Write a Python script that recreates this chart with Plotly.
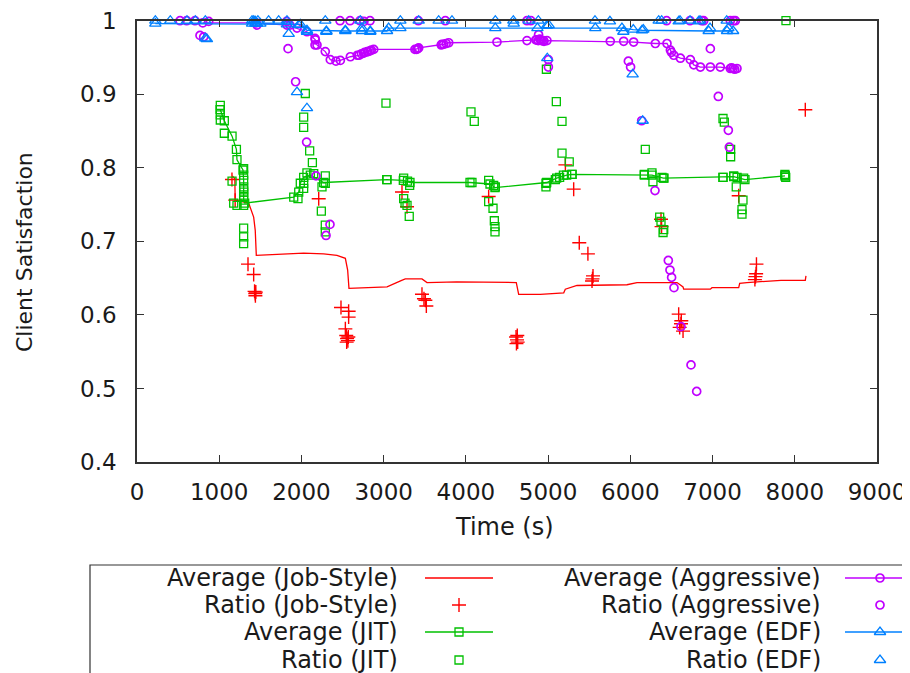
import plotly.graph_objects as go

# ---------------- data ----------------
job_avg_x = [1160, 1190, 1194, 1358, 1419, 1438, 1451, 1703, 2027, 2270, 2432, 2534, 2562, 2578, 2757,
             3041, 3219, 3263, 3466, 3527, 3888, 4439, 4613, 4642, 4905, 5190, 5209, 5351, 5959, 6081,
             6568, 6641, 6649, 6973, 6993, 7318, 7330, 7418, 7824, 7832, 8128, 8136]
job_avg_y = [0.789, 0.785, 0.756, 0.752, 0.733, 0.715, 0.681, 0.682, 0.684, 0.683, 0.681, 0.677, 0.661,
             0.636, 0.637, 0.638, 0.647, 0.649, 0.649, 0.644, 0.645, 0.644, 0.644, 0.628, 0.628, 0.630,
             0.635, 0.640, 0.641, 0.644, 0.644, 0.638, 0.635, 0.635, 0.637, 0.637, 0.643, 0.644, 0.646,
             0.647, 0.647, 0.653]

job_ratio_x = [1155, 1194, 1350, 1419, 1430, 1438, 1445, 1440, 2210, 2481, 2574, 2574, 2534, 2545, 2555,
               2565, 2550, 2570, 3223, 3284, 3466, 3507, 3519, 3490, 4277, 4610, 4622, 4630, 4615, 4625,
               5210, 5311, 5379, 5484, 5546, 5534, 5540, 6373, 6380, 7318, 7534, 7522, 7530, 7515, 6588,
               6616, 6641, 6600, 6620, 8128]
job_ratio_y = [0.784, 0.756, 0.669, 0.655, 0.632, 0.629, 0.631, 0.626, 0.758, 0.610, 0.605, 0.597, 0.581,
               0.572, 0.568, 0.565, 0.563, 0.570, 0.767, 0.747, 0.628, 0.620, 0.612, 0.622, 0.761, 0.570,
               0.566, 0.563, 0.561, 0.572, 0.804, 0.771, 0.698, 0.683, 0.653, 0.646, 0.649, 0.730, 0.720,
               0.762, 0.669, 0.652, 0.656, 0.648, 0.601, 0.588, 0.578, 0.583, 0.592, 0.879]

jit_avg_x = [1013, 1062, 1156, 1209, 1216, 1289, 1297, 1297, 1297, 1310, 1906, 1967, 1986, 2027, 2108,
             2270, 3041, 3239, 3320, 4050, 4293, 4354, 4983, 5104, 5226, 5291, 6170, 6263, 6402, 7127,
             7257, 7394, 7881]
jit_avg_y = [0.879, 0.864, 0.843, 0.825, 0.811, 0.797, 0.783, 0.770, 0.756, 0.752, 0.760, 0.767, 0.779,
             0.787, 0.790, 0.780, 0.784, 0.783, 0.780, 0.780, 0.778, 0.773, 0.780, 0.786, 0.790, 0.791,
             0.791, 0.790, 0.786, 0.787, 0.788, 0.784, 0.789]

jit_ratio_x = [1013, 1013, 1013, 1013, 1062, 1156, 1176, 1216, 1297, 1297, 1297, 1297, 1297, 1297, 1297,
               1297, 1297, 2047, 2027, 2027, 2100, 2133, 2027, 2027, 1958, 2067, 2149, 2250, 2290, 2290,
               2242, 2290, 2290, 3028, 3037, 3243, 3290, 3316, 3243, 3284, 3311, 3260, 4062, 4102, 4074,
               4277, 4338, 4358, 4277, 4330, 4346, 4354, 4354, 4979, 5100, 5169, 5169, 5257, 4974, 4974,
               5088, 5140, 5186, 5291, 6182, 6170, 6263, 6275, 6385, 6410, 6357, 6373, 6406, 6398, 7127,
               7143, 7220, 7220, 7127, 7257, 7298, 7378, 7288, 7370, 7358, 7358, 7885, 7880, 7890, 7893]
jit_ratio_y = [0.885, 0.879, 0.872, 0.865, 0.847, 0.782, 0.752, 0.749, 0.799, 0.790, 0.774, 0.767, 0.761,
               0.749, 0.718, 0.706, 0.697, 0.901, 0.869, 0.855, 0.823, 0.807, 0.779, 0.772, 0.758, 0.793,
               0.792, 0.774, 0.789, 0.779, 0.741, 0.722, 0.713, 0.888, 0.784, 0.786, 0.782, 0.776, 0.758,
               0.749, 0.734, 0.752, 0.876, 0.863, 0.780, 0.783, 0.776, 0.774, 0.754, 0.745, 0.728, 0.720,
               0.713, 0.934, 0.890, 0.863, 0.820, 0.808, 0.779, 0.774, 0.784, 0.787, 0.790, 0.791, 0.825,
               0.790, 0.793, 0.781, 0.787, 0.786, 0.733, 0.727, 0.716, 0.712, 0.867, 0.862, 0.825, 0.815,
               0.787, 0.789, 0.787, 0.786, 0.774, 0.756, 0.743, 0.737, 0.789, 0.791, 0.787, 1.0]

agg_avg_x = [800, 1450, 1824, 1946, 2067, 2169, 2189, 2290, 2351, 2420, 2473, 2595, 2680, 2700, 2730,
             2757, 2770, 2800, 2810, 2834, 2850, 2879, 3380, 3402, 3415, 3426, 3700, 3709, 3730, 3760,
             3791, 4378, 4743, 4850, 4860, 4880, 4900, 4905, 4920, 4940, 4950, 4986, 5756, 5919, 6040,
             6304, 6446, 6487, 6500, 6528, 6609, 6730, 6771, 6852, 6973, 7094, 7216, 7230, 7250, 7270,
             7297]
agg_avg_y = [0.997, 0.997, 0.994, 0.990, 0.985, 0.974, 0.967, 0.958, 0.947, 0.945, 0.946, 0.951, 0.953,
             0.953, 0.955, 0.956, 0.957, 0.958, 0.958, 0.959, 0.960, 0.961, 0.961, 0.961, 0.962, 0.963,
             0.967, 0.968, 0.968, 0.969, 0.970, 0.971, 0.973, 0.974, 0.974, 0.973, 0.975, 0.974, 0.973,
             0.973, 0.972, 0.973, 0.972, 0.972, 0.971, 0.969, 0.969, 0.960, 0.957, 0.953, 0.949, 0.947,
             0.940, 0.937, 0.937, 0.937, 0.935, 0.936, 0.935, 0.934, 0.935]

agg_ratio_x = [523, 604, 705, 872, 766, 811, 1459, 1820, 1860, 1837, 1929, 2063, 2177, 2347, 2299, 2165,
               2165, 2469, 2591, 2712, 2834, 2760, 3422, 3750, 4743, 4790, 4884, 5003, 5003, 5976, 6003,
               6138, 6441, 6726, 6868, 6892, 7216, 7253, 7277, 6973, 7070, 7192, 7204, 6300, 6462, 6482,
               6502, 6531, 6616, 6738, 6807]
agg_ratio_y = [1.0, 1.0, 1.0, 0.999, 0.980, 0.978, 0.994, 0.999, 0.994, 0.962, 0.917, 0.835, 0.789, 0.723,
               0.708, 0.976, 0.967, 1.0, 1.0, 1.0, 1.0, 0.999, 1.0, 1.0, 1.0, 1.0, 0.981, 0.947, 0.937,
               0.945, 0.937, 0.864, 1.0, 1.0, 1.0, 1.0, 1.0, 1.0, 1.0, 0.962, 0.897, 0.851, 0.828, 0.769,
               0.674, 0.661, 0.651, 0.637, 0.584, 0.532, 0.496]

edf_avg_x = [223, 1400, 1439, 1460, 1500, 1824, 1986, 2067, 2303, 2534, 2736, 2837, 3041, 3060, 3203,
             4358, 4870, 5574, 5898, 6036, 6142, 6953, 7176, 7250]
edf_avg_y = [0.996, 0.996, 0.996, 0.996, 0.996, 0.995, 0.995, 0.987, 0.986, 0.986, 0.986, 0.986, 0.986,
             0.990, 0.990, 0.990, 0.990, 0.990, 0.990, 0.988, 0.987, 0.986, 0.986, 0.986]

edf_ratio_x = [223, 405, 608, 710, 831, 831, 850, 1399, 1420, 1439, 1470, 1601, 1723, 1824, 1845, 1967,
               2067, 2290, 2303, 2534, 2716, 2736, 2837, 1946, 2067, 3203, 3426, 3669, 3831, 4358, 4582,
               4577, 4764, 4881, 4983, 5007, 4990, 5570, 5752, 5915, 6028, 6150, 6158, 6345, 6381, 6588,
               6604, 6726, 6831, 6847, 6969, 7172, 7192]
edf_ratio_y = [1.0, 1.0, 1.0, 1.0, 1.0, 0.976, 0.975, 1.0, 1.0, 0.999, 1.0, 1.0, 1.0, 1.0, 0.982, 0.994,
               0.985, 1.0, 0.985, 0.987, 1.0, 0.990, 0.985, 0.903, 0.881, 1.0, 1.0, 1.0, 1.0, 1.0, 0.996,
               1.0, 1.0, 1.0, 0.993, 0.994, 0.949, 1.0, 0.999, 0.985, 0.927, 0.864, 0.988, 1.0, 1.0, 0.999,
               1.0, 1.0, 0.999, 1.0, 0.990, 1.0, 0.990]

x_ticks = [0, 1000, 2000, 3000, 4000, 5000, 6000, 7000, 8000, 9000]
x_tick_labels = ["0", "1000", "2000", "3000", "4000", "5000", "6000", "7000", "8000", "9000"]
y_ticks = [0.4, 0.5, 0.6, 0.7, 0.8, 0.9, 1.0]
y_tick_labels = ["0.4", "0.5", "0.6", "0.7", "0.8", "0.9", "1"]

legend_left = ["Average (Job-Style)", "Ratio (Job-Style)", "Average (JIT)", "Ratio (JIT)"]
legend_right = ["Average (Aggressive)", "Ratio (Aggressive)", "Average (EDF)", "Ratio (EDF)"]

# ---------------- styles ----------------
RED, GREEN, BLUE, PURPLE = "#ff0000", "#00c000", "#0080ff", "#c000ff"
FONT = "DejaVu Sans"
TXT = "#1a1a1a"
FS = 24
OFF = 8                      # page body margin in the browser
W, H = 910 - OFF, 673 - OFF  # figure size that exactly fills the visible window


def px(v):
    return (v - OFF) / W


def py(v):
    return 1 - (v - OFF) / H


L, R, T, B = 137, 877, 20.7, 462  # screen pixel position of the plot frame

sq = dict(symbol="square-open", size=8, line=dict(width=1.3, color=GREEN), color=GREEN)
pl = dict(symbol="cross-thin-open", size=10, line=dict(width=1.4, color=RED), color=RED)
ci = dict(symbol="circle-open", size=8, line=dict(width=1.7, color=PURPLE), color=PURPLE)
tr = dict(symbol="triangle-up-open", size=10, line=dict(width=1.3, color=BLUE), color=BLUE)

fig = go.Figure()
fig.add_trace(go.Scatter(x=job_avg_x, y=job_avg_y, mode="lines", line=dict(color=RED, width=1.3),
                         cliponaxis=False, showlegend=False))
fig.add_trace(go.Scatter(x=job_ratio_x, y=job_ratio_y, mode="markers", marker=pl, cliponaxis=False,
                         showlegend=False))
fig.add_trace(go.Scatter(x=jit_avg_x, y=jit_avg_y, mode="lines+markers", line=dict(color=GREEN, width=1.3),
                         marker=sq, cliponaxis=False, showlegend=False))
fig.add_trace(go.Scatter(x=jit_ratio_x, y=jit_ratio_y, mode="markers", marker=sq, cliponaxis=False,
                         showlegend=False))
fig.add_trace(go.Scatter(x=agg_avg_x, y=agg_avg_y, mode="lines+markers", line=dict(color=PURPLE, width=1.3),
                         marker=ci, cliponaxis=False, showlegend=False))
fig.add_trace(go.Scatter(x=agg_ratio_x, y=agg_ratio_y, mode="markers", marker=ci, cliponaxis=False,
                         showlegend=False))
fig.add_trace(go.Scatter(x=edf_avg_x, y=edf_avg_y, mode="lines+markers", line=dict(color=BLUE, width=1.3),
                         marker=tr, cliponaxis=False, showlegend=False))
fig.add_trace(go.Scatter(x=edf_ratio_x, y=edf_ratio_y, mode="markers", marker=tr, cliponaxis=False,
                         showlegend=False))

# ---------------- hand-made key (gnuplot style: text first, sample after) ----------------
rows_py = [578, 605, 632, 660]
left_col = dict(text_x=400, s0=425, s1=493, mx=459)
right_col = dict(text_x=823, s0=845, s1=915, mx=880)
left_styles = [("line", RED, None), ("mark", RED, pl), ("both", GREEN, sq), ("mark", GREEN, sq)]
right_styles = [("both", PURPLE, ci), ("mark", PURPLE, ci), ("both", BLUE, tr), ("mark", BLUE, tr)]

annotations = []
shapes = []
for col, labels, styles in ((left_col, legend_left, left_styles), (right_col, legend_right, right_styles)):
    for ry, lab, (kind, col_c, mk) in zip(rows_py, labels, styles):
        annotations.append(dict(text=lab, x=px(col["text_x"]), y=py(ry), xref="paper", yref="paper",
                                xanchor="right", yanchor="middle", showarrow=False,
                                font=dict(family=FONT, size=FS, color=TXT)))
        if kind in ("line", "both"):
            fig.add_trace(go.Scatter(x=[col["s0"] - OFF, col["s1"] - OFF], y=[H - (ry - OFF)] * 2,
                                     mode="lines", line=dict(color=col_c, width=1.3), xaxis="x2", yaxis="y2",
                                     cliponaxis=False, showlegend=False, hoverinfo="skip"))
        if kind in ("mark", "both"):
            fig.add_trace(go.Scatter(x=[col["mx"] - OFF], y=[H - (ry - OFF)], mode="markers", marker=mk,
                                     xaxis="x2", yaxis="y2", cliponaxis=False, showlegend=False,
                                     hoverinfo="skip"))

shapes.append(dict(type="rect", xref="paper", yref="paper", x0=px(90), x1=1.05, y0=-0.1, y1=py(565),
                   line=dict(color="#333333", width=1.2), fillcolor="rgba(0,0,0,0)"))

annotations.append(dict(text="Client Satisfaction", x=px(25), y=py(252), xref="paper", yref="paper",
                        textangle=-90, showarrow=False, xanchor="center", yanchor="middle",
                        font=dict(family=FONT, size=22, color=TXT)))
annotations.append(dict(text="Time (s)", x=px(504), y=py(527), xref="paper", yref="paper",
                        showarrow=False, xanchor="center", yanchor="middle",
                        font=dict(family=FONT, size=FS, color=TXT)))

axis_common = dict(showgrid=False, zeroline=False, showline=True, mirror="allticks", linecolor="#333333",
                   linewidth=1.5, ticks="inside", ticklen=7, tickwidth=1.2, tickcolor="#333333",
                   automargin=False, ticklabeloverflow="allow",
                   tickfont=dict(family=FONT, size=23, color=TXT))

fig.update_layout(
    template="none",
    width=W, height=H,
    margin=dict(l=0, r=0, t=0, b=0, autoexpand=False),
    paper_bgcolor="white", plot_bgcolor="rgba(0,0,0,0)",
    xaxis=dict(domain=[px(L), px(R)], range=[0, 9000], tickvals=x_ticks, ticktext=x_tick_labels,
               ticklabelstandoff=9, **axis_common),
    yaxis=dict(domain=[py(B), py(T)], range=[0.4, 1.0], tickvals=y_ticks, ticktext=y_tick_labels,
               ticklabelstandoff=14, **axis_common),
    xaxis2=dict(domain=[0, 1], range=[0, W], visible=False, anchor="y2", fixedrange=True, automargin=False),
    yaxis2=dict(domain=[0, 1], range=[0, H], visible=False, anchor="x2", fixedrange=True, automargin=False),
    annotations=annotations, shapes=shapes,
    showlegend=False,
)

fig.write_html("out.html")
